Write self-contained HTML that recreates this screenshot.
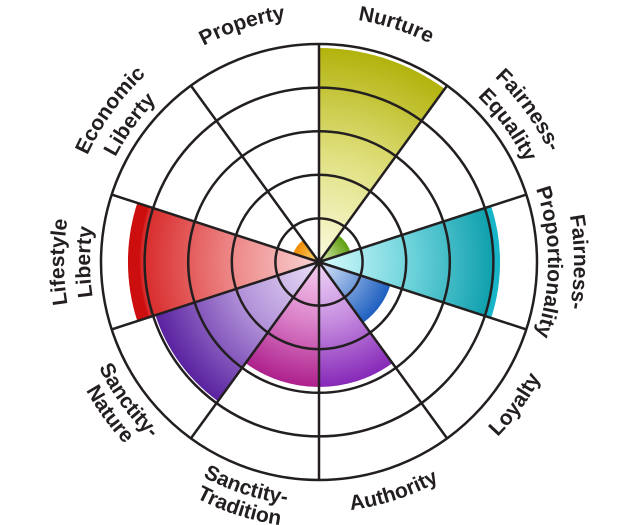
<!DOCTYPE html>
<html><head><meta charset="utf-8"><style>
html,body{margin:0;padding:0;background:#fff;width:640px;height:525px;overflow:hidden}
svg{display:block}
text{font-family:"Liberation Sans",sans-serif;font-weight:bold;font-size:21px;fill:#231f20}
</style></head><body>
<svg width="640" height="525" viewBox="0 0 640 525" xmlns="http://www.w3.org/2000/svg">
<defs>
<radialGradient id="gY" gradientUnits="userSpaceOnUse" cx="319" cy="263" r="215"><stop offset="0" stop-color="#fbfbe0"/><stop offset="0.5" stop-color="#e0e080"/><stop offset="1" stop-color="#b2b20c"/></radialGradient>
<radialGradient id="gG" gradientUnits="userSpaceOnUse" cx="319" cy="263" r="33"><stop offset="0" stop-color="#e0f0b8"/><stop offset="1" stop-color="#5e9e10"/></radialGradient>
<radialGradient id="gT" gradientUnits="userSpaceOnUse" cx="319" cy="263" r="181"><stop offset="0" stop-color="#d8fcfd"/><stop offset="0.5" stop-color="#70d4dc"/><stop offset="0.96" stop-color="#10a0ae"/><stop offset="0.97" stop-color="#18b4c8"/><stop offset="1" stop-color="#18b4c8"/></radialGradient>
<radialGradient id="gB" gradientUnits="userSpaceOnUse" cx="319" cy="263" r="75"><stop offset="0" stop-color="#dde8fa"/><stop offset="1" stop-color="#1e5fc0"/></radialGradient>
<radialGradient id="gA" gradientUnits="userSpaceOnUse" cx="319" cy="263" r="125"><stop offset="0" stop-color="#f2d8f8"/><stop offset="0.5" stop-color="#c48ade"/><stop offset="1" stop-color="#8628b8"/></radialGradient>
<radialGradient id="gM" gradientUnits="userSpaceOnUse" cx="319" cy="263" r="125"><stop offset="0" stop-color="#f8d0f0"/><stop offset="0.5" stop-color="#da80c8"/><stop offset="1" stop-color="#ae208c"/></radialGradient>
<radialGradient id="gP" gradientUnits="userSpaceOnUse" cx="319" cy="263" r="172"><stop offset="0" stop-color="#ece0f8"/><stop offset="0.5" stop-color="#b090d8"/><stop offset="1" stop-color="#5a22a0"/></radialGradient>
<radialGradient id="gR" gradientUnits="userSpaceOnUse" cx="319" cy="263" r="191"><stop offset="0" stop-color="#fad4d4"/><stop offset="0.5" stop-color="#ec8080"/><stop offset="0.93" stop-color="#d82a2a"/><stop offset="0.94" stop-color="#cc0e0e"/><stop offset="1" stop-color="#cc0e0e"/></radialGradient>
<radialGradient id="gO" gradientUnits="userSpaceOnUse" cx="319" cy="263" r="27"><stop offset="0" stop-color="#ffe080"/><stop offset="1" stop-color="#f08a00"/></radialGradient>
<path id="cw245" d="M319,508 A245,245 0 1 1 319,18 A245,245 0 1 1 319,508"/>
<path id="cw255" d="M319,518 A255,255 0 1 1 319,8 A255,255 0 1 1 319,518"/>
<path id="cw229" d="M319,492 A229,229 0 1 1 319,34 A229,229 0 1 1 319,492"/>
<path id="ccw250" d="M319,13 A250,250 0 1 0 319,513 A250,250 0 1 0 319,13"/>
<path id="ccw244" d="M319,19 A244,244 0 1 0 319,507 A244,244 0 1 0 319,19"/>
<path id="ccw266" d="M319,-3 A266,266 0 1 0 319,529 A266,266 0 1 0 319,-3"/>
</defs>
<g transform="translate(0,-1)">
<path d="M319,263 L319,49 A214,214 0 0 1 444.8,89.9 Z" fill="url(#gY)"/>
<path d="M319,263 L338.4,236.3 A33,33 0 0 1 350.4,252.8 Z" fill="url(#gG)"/>
<path d="M319,263 L491.2,207.1 A181,181 0 0 1 491.2,318.9 Z" fill="url(#gT)"/>
<path d="M319,263 L390.3,286.2 A75,75 0 0 1 363.1,323.7 Z" fill="url(#gB)"/>
<path d="M319,263 L392.5,364.1 A125,125 0 0 1 319,388 Z" fill="url(#gA)"/>
<path d="M319,263 L319,388 A125,125 0 0 1 245.5,364.1 Z" fill="url(#gM)"/>
<path d="M319,263 L217.9,402.1 A172,172 0 0 1 155.4,316.1 Z" fill="url(#gP)"/>
<path d="M319,263 L137.3,322.0 A191,191 0 0 1 137.3,204.0 Z" fill="url(#gR)"/>
<path d="M319,263 L293.3,254.7 A27,27 0 0 1 303.1,241.2 Z" fill="url(#gO)"/>
<g fill="none" stroke="#231f20" stroke-width="2.5">
<circle cx="319" cy="263" r="43.6"/><circle cx="319" cy="263" r="87.2"/><circle cx="319" cy="263" r="130.8"/><circle cx="319" cy="263" r="174.4"/><circle cx="319" cy="263" r="218"/>
<path d="M319,263 L319,45 M319,263 L447.1,86.6 M319,263 L526.3,195.6 M319,263 L526.3,330.4 M319,263 L447.1,439.4 M319,263 L319,481 M319,263 L190.9,439.4 M319,263 L111.7,330.4 M319,263 L111.7,195.6 M319,263 L190.9,86.6"/>
</g>
<circle cx="319" cy="263" r="3" fill="#231f20"/>
<text font-size="23"><textPath href="#cw245" startOffset="55%" text-anchor="middle">Nurture</textPath></text>
<text font-size="23"><textPath href="#cw245" startOffset="45%" text-anchor="middle">Property</textPath></text>
<text><textPath href="#cw255" startOffset="65%" text-anchor="middle">Fairness-</textPath></text>
<text><textPath href="#cw229" startOffset="65%" text-anchor="middle">Equality</textPath></text>
<text><textPath href="#cw255" startOffset="75%" text-anchor="middle">Fairness-</textPath></text>
<text><textPath href="#cw229" startOffset="75%" text-anchor="middle">Proportionality</textPath></text>
<text><textPath href="#cw255" startOffset="25%" text-anchor="middle">Lifestyle</textPath></text>
<text><textPath href="#cw229" startOffset="25%" text-anchor="middle">Liberty</textPath></text>
<text><textPath href="#cw255" startOffset="35%" text-anchor="middle">Economic</textPath></text>
<text><textPath href="#cw229" startOffset="35%" text-anchor="middle">Liberty</textPath></text>
<text font-size="22"><textPath href="#ccw250" startOffset="65%" text-anchor="middle">Loyalty</textPath></text>
<text font-size="22"><textPath href="#ccw250" startOffset="55%" text-anchor="middle">Authority</textPath></text>
<text><textPath href="#ccw244" startOffset="45%" text-anchor="middle">Sanctity-</textPath></text>
<text><textPath href="#ccw266" startOffset="45%" text-anchor="middle">Tradition</textPath></text>
<text><textPath href="#ccw244" startOffset="35%" text-anchor="middle">Sanctity-</textPath></text>
<text><textPath href="#ccw266" startOffset="35%" text-anchor="middle">Nature</textPath></text>
</g>
</svg>
</body></html>
